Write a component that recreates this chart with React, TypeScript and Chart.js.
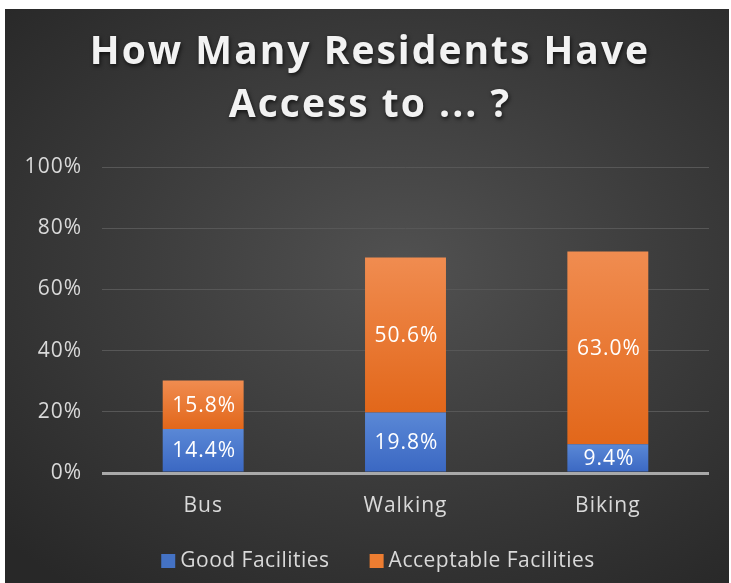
import React, { useEffect, useRef } from "react";
import { Chart, registerables } from "chart.js";

Chart.register(...registerables);

const titleLines = ["How Many Residents Have", "Access to ... ?"];
const categories = ["Bus", "Walking", "Biking"];
const goodFacilities = [14.4, 19.8, 9.4];
const acceptableFacilities = [15.8, 50.6, 63.0];
const seriesNames = ["Good Facilities", "Acceptable Facilities"];
const yTicks = [0, 20, 40, 60, 80, 100];

const FONT = "'Open Sans', sans-serif";
const BLUE = "#4472c4";
const ORANGE = "#ed7d31";
const TEXT_SIZE = 21;

function segGradient(ctx: any, top: number, bottom: number, light: string, dark: string) {
  const chart = ctx.chart;
  const y = chart.scales.y;
  if (!y || !chart.ctx) return dark;
  const y0 = y.getPixelForValue(top);
  const y1 = y.getPixelForValue(bottom);
  if (!isFinite(y0) || !isFinite(y1) || y0 === y1) return dark;
  const g = chart.ctx.createLinearGradient(0, y0, 0, y1);
  g.addColorStop(0, light);
  g.addColorStop(1, dark);
  return g;
}

const spacingPlugin = {
  id: "letterSpacing",
  beforeUpdate(chart: any) {
    (chart.ctx as any).letterSpacing = "1px";
  },
  beforeDraw(chart: any) {
    (chart.ctx as any).letterSpacing = "1px";
  },
};

const titlePlugin = {
  id: "customTitle",
  afterDraw(chart: any) {
    const ctx = chart.ctx;
    ctx.save();
    ctx.font = `bold 39px ${FONT}`;
    (ctx as any).letterSpacing = "2px";
    ctx.fillStyle = "#f2f2f2";
    ctx.textAlign = "center";
    ctx.textBaseline = "middle";
    ctx.shadowColor = "rgba(0,0,0,0.7)";
    ctx.shadowBlur = 4;
    ctx.shadowOffsetX = 1;
    ctx.shadowOffsetY = 2;
    const cx = chart.width / 2 + 3;
    ctx.fillText(titleLines[0], cx, 44);
    ctx.fillText(titleLines[1], cx, 97);
    ctx.restore();
  },
};

const dataLabelPlugin = {
  id: "dataLabels",
  afterDatasetsDraw(chart: any) {
    const ctx = chart.ctx;
    ctx.save();
    ctx.font = `${TEXT_SIZE}px ${FONT}`;
    (ctx as any).letterSpacing = "1px";
    ctx.fillStyle = "#ffffff";
    ctx.textAlign = "center";
    ctx.textBaseline = "middle";
    chart.data.datasets.forEach((ds: any, di: number) => {
      const meta = chart.getDatasetMeta(di);
      meta.data.forEach((el: any, i: number) => {
        const v = ds.data[i];
        ctx.fillText(v.toFixed(1) + "%", el.x + 1, (el.y + el.base) / 2 + 1);
      });
    });
    ctx.restore();
  },
};

const legendPlugin = {
  id: "customLegend",
  afterDraw(chart: any) {
    const ctx = chart.ctx;
    ctx.save();
    ctx.font = `${TEXT_SIZE}px ${FONT}`;
    (ctx as any).letterSpacing = "0.5px";
    ctx.textBaseline = "middle";
    ctx.textAlign = "left";
    const colors = [BLUE, ORANGE];
    const y = 551;
    const box = 14;
    const gap = 5;
    const spacing = 40;
    const widths = seriesNames.map((t) => ctx.measureText(t).width);
    const total = widths.reduce((a, w) => a + box + gap + w, 0) + spacing;
    let x = 373 - total / 2;
    seriesNames.forEach((t, i) => {
      ctx.fillStyle = colors[i];
      ctx.fillRect(x, y - box / 2 + 1, box, box);
      ctx.fillStyle = "#d9d9d9";
      ctx.fillText(t, x + box + gap, y + 1);
      x += box + gap + widths[i] + spacing;
    });
    ctx.restore();
  },
};

export default function App() {
  const canvasRef = useRef<HTMLCanvasElement | null>(null);

  useEffect(() => {
    if (!canvasRef.current) return;
    const chart = new Chart(canvasRef.current, {
      type: "bar",
      data: {
        labels: categories,
        datasets: [
          {
            label: seriesNames[0],
            data: goodFacilities,
            backgroundColor: (c: any) =>
              segGradient(c, goodFacilities[c.dataIndex] ?? 0, 0, "#5a88d6", "#3a67c2"),
            barPercentage: 0.4,
            categoryPercentage: 1,
          },
          {
            label: seriesNames[1],
            data: acceptableFacilities,
            backgroundColor: (c: any) =>
              segGradient(
                c,
                (goodFacilities[c.dataIndex] ?? 0) + (acceptableFacilities[c.dataIndex] ?? 0),
                goodFacilities[c.dataIndex] ?? 0,
                "#f08c50",
                "#e2671a"
              ),
            barPercentage: 0.4,
            categoryPercentage: 1,
          },
        ],
      },
      options: {
        animation: false,
        responsive: true,
        maintainAspectRatio: false,
        layout: { padding: { top: 158, bottom: 50, left: 0, right: 20 } },
        plugins: {
          legend: { display: false },
          title: { display: false },
          tooltip: { enabled: false },
        },
        scales: {
          x: {
            stacked: true,
            grid: { display: false, drawTicks: false },
            border: { display: false },
            ticks: { color: "#d9d9d9", font: { family: FONT, size: TEXT_SIZE }, padding: 20 },
            afterFit: (s: any) => {
              s.height = 60;
            },
          },
          y: {
            stacked: true,
            min: 0,
            max: 100,
            afterBuildTicks: (s: any) => {
              s.ticks = yTicks.map((v) => ({ value: v }));
            },
            grid: {
              drawTicks: false,
              color: (c: any) => (c.tick && c.tick.value === 0 ? "#a9a9a9" : "#575757"),
              lineWidth: (c: any) => (c.tick && c.tick.value === 0 ? 3 : 1),
            },
            border: { display: false },
            ticks: {
              color: "#d9d9d9",
              font: { family: FONT, size: TEXT_SIZE },
              padding: 20,
              callback: (v: any) => v + "%",
            },
            afterFit: (s: any) => {
              s.width = 97;
            },
          },
        },
      },
      plugins: [spacingPlugin, titlePlugin, dataLabelPlugin, legendPlugin],
    });
    return () => chart.destroy();
  }, []);

  return (
    <div
      style={{
        position: "fixed",
        left: 5,
        top: 9,
        width: 724,
        height: 574,
        background:
          "radial-gradient(ellipse 75% 70% at 55% 45%, #515151 0%, #3c3c3c 50%, #282828 100%)",
      }}
    >
      <canvas ref={canvasRef} />
    </div>
  );
}
